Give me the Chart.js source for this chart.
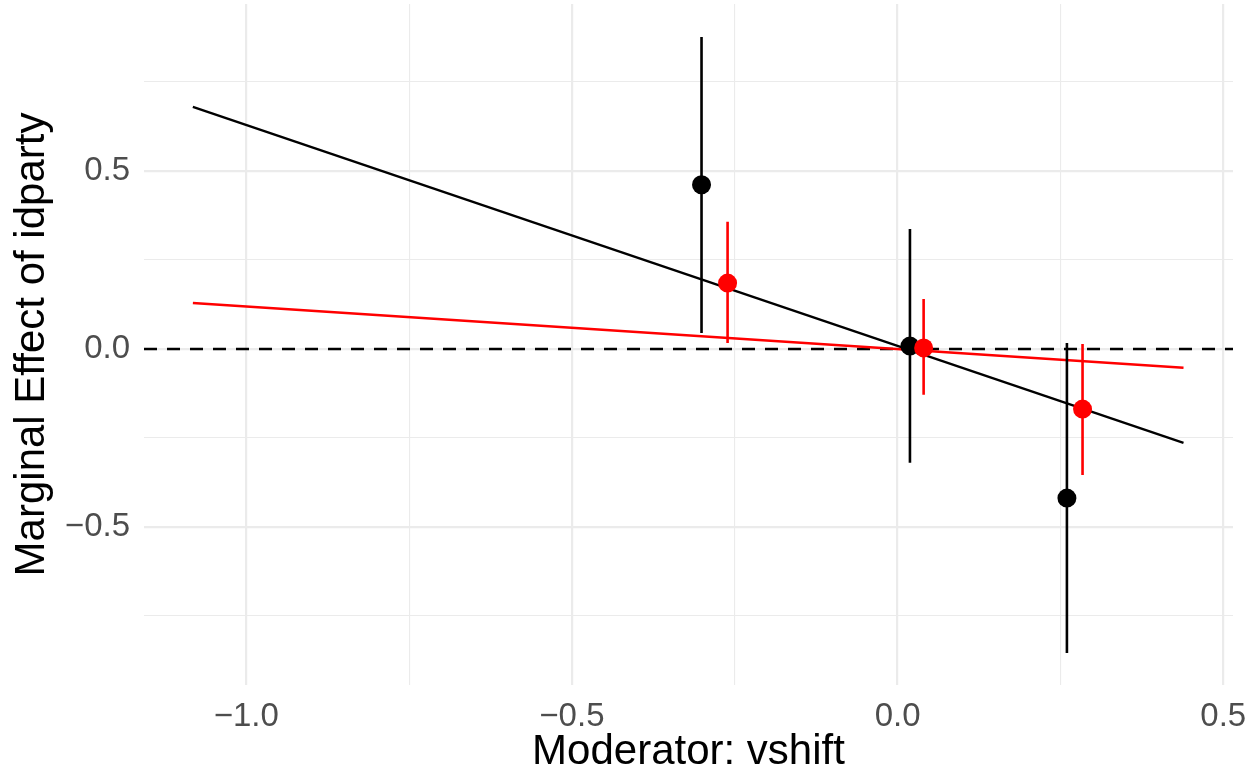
<!DOCTYPE html>
<html>
<head>
<meta charset="utf-8">
<script src="https://cdn.jsdelivr.net/npm/chart.js@4/dist/chart.umd.min.js"></script>
<style>
  html, body { margin: 0; padding: 0; background: #ffffff; }
  #wrap { width: 1259px; height: 778px; position: relative; }
</style>
</head>
<body>
<div id="wrap"><canvas id="c" width="1259" height="778"></canvas></div>
<script>
// ---- data ----
const X_MIN = -1.157, X_MAX = 0.515;
const Y_MIN = -0.944, Y_MAX = 0.969;

const X_TICKS = [-1.0, -0.75, -0.5, -0.25, 0.0, 0.25, 0.5];
const X_TICK_LABELS = ['\u22121.0', '', '\u22120.5', '', '0.0', '', '0.5'];
const Y_TICKS = [-0.75, -0.5, -0.25, 0.0, 0.25, 0.5, 0.75];
const Y_TICK_LABELS = ['', '\u22120.5', '', '0.0', '', '0.5', ''];

// fitted marginal-effect lines (endpoints)
const lineX = [-1.082, 0.439];
const blackLineY = [0.680, -0.264];
const redLineY = [0.129, -0.053];

// binned estimates (black) with confidence intervals
const blackX = [-0.301, 0.019, 0.260];
const blackY = [0.461, 0.008, -0.419];
const blackLo = [0.045, -0.320, -0.854];
const blackHi = [0.876, 0.337, 0.017];

// binned estimates (red) with confidence intervals
const redX = [-0.261, 0.040, 0.284];
const redY = [0.185, 0.003, -0.169];
const redLo = [0.017, -0.129, -0.354];
const redHi = [0.357, 0.140, 0.014];

const zeroLineX = [X_MIN, X_MAX];
const zeroLineY = [0, 0];

// ---- helpers to build library datasets ----
function pts(xs, ys) { return xs.map((x, i) => ({ x: x, y: ys[i] })); }
function bars(xs, lo, hi) {
  const out = [];
  xs.forEach((x, i) => { out.push({ x: x, y: lo[i] }, { x: x, y: hi[i] }, { x: x, y: null }); });
  return out;
}

const FONT = '"Liberation Sans", Arial, Helvetica, sans-serif';
const GRID = '#EBEBEB';

const xMajor = X_TICKS.map(v => Math.abs(v * 2 - Math.round(v * 2)) < 1e-9);
const yMajor = Y_TICKS.map(v => Math.abs(v * 2 - Math.round(v * 2)) < 1e-9);

new Chart(document.getElementById('c'), {
  type: 'line',
  data: {
    datasets: [
      { label: 'red points', data: pts(redX, redY), showLine: false, pointRadius: 9.5, pointBackgroundColor: '#FF0000', pointBorderWidth: 0, borderColor: '#FF0000', order: 0 },
      { label: 'red bars', data: bars(redX, redLo, redHi), borderColor: '#FF0000', borderWidth: 2.6, pointRadius: 0, spanGaps: false, order: 1 },
      { label: 'black points', data: pts(blackX, blackY), showLine: false, pointRadius: 9.5, pointBackgroundColor: '#000000', pointBorderWidth: 0, borderColor: '#000000', order: 2 },
      { label: 'black bars', data: bars(blackX, blackLo, blackHi), borderColor: '#000000', borderWidth: 2.6, pointRadius: 0, spanGaps: false, order: 3 },
      { label: 'red line', data: pts(lineX, redLineY), borderColor: '#FF0000', borderWidth: 2.4, pointRadius: 0, order: 4 },
      { label: 'black line', data: pts(lineX, blackLineY), borderColor: '#000000', borderWidth: 2.4, pointRadius: 0, order: 5 },
      { label: 'zero', data: pts(zeroLineX, zeroLineY), borderColor: '#000000', borderWidth: 2.4, borderDash: [13, 10], pointRadius: 0, order: 6 }
    ]
  },
  options: {
    responsive: false,
    animation: false,
    events: [],
    layout: { autoPadding: false, padding: { left: 0, top: 4, right: 26, bottom: 0 } },
    plugins: { legend: { display: false }, tooltip: { enabled: false } },
    elements: { line: { tension: 0, borderCapStyle: 'butt' } },
    scales: {
      x: {
        type: 'linear',
        min: X_MIN, max: X_MAX,
        afterBuildTicks: s => { s.ticks = X_TICKS.map(v => ({ value: v })); },
        afterFit: s => { s.height = 93; s.paddingLeft = 0; s.paddingRight = 0; },
        border: { display: false },
        grid: {
          drawTicks: false,
          color: GRID,
          lineWidth: c => (xMajor[c.index] ? 2.2 : 1.1)
        },
        ticks: {
          autoSkip: false, maxRotation: 0, padding: 12,
          color: '#4D4D4D',
          font: { family: FONT, size: 33 },
          callback: (v, i) => X_TICK_LABELS[i]
        },
        title: {
          display: true, text: 'Moderator: vshift', color: '#000000',
          font: { family: FONT, size: 42 },
          padding: { top: 0, bottom: 0 }
        }
      },
      y: {
        type: 'linear',
        min: Y_MIN, max: Y_MAX,
        afterBuildTicks: s => { s.ticks = Y_TICKS.map(v => ({ value: v })); },
        afterFit: s => { s.width = 144; s.paddingTop = 0; s.paddingBottom = 0; },
        border: { display: false },
        grid: {
          drawTicks: false,
          color: GRID,
          lineWidth: c => (yMajor[c.index] ? 2.2 : 1.1)
        },
        ticks: {
          autoSkip: false, padding: 14,
          color: '#4D4D4D',
          font: { family: FONT, size: 33 },
          callback: (v, i) => Y_TICK_LABELS[i]
        },
        title: {
          display: true, text: 'Marginal Effect of idparty', color: '#000000',
          font: { family: FONT, size: 42 },
          padding: { top: 7, bottom: 0 }
        }
      }
    }
  }
});
</script>
</body>
</html>
